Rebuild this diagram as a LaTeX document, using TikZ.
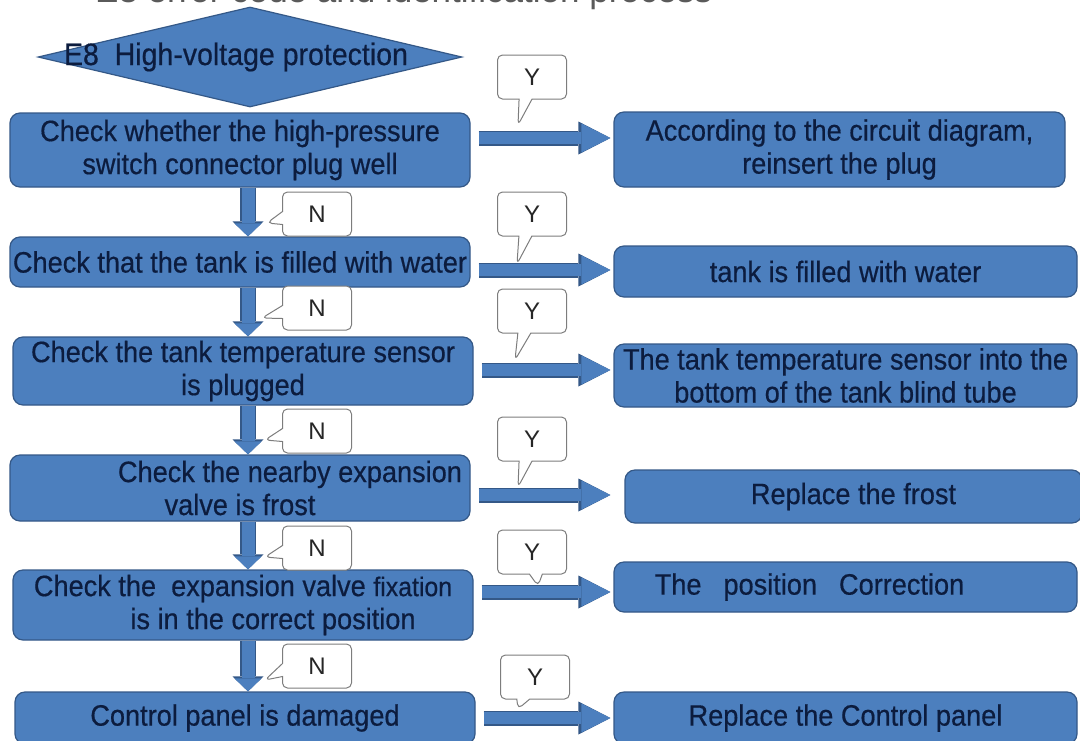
\documentclass[tikz,border=0pt]{standalone}
\usepackage{fontspec}
\setmainfont{Liberation Sans}
\newfontfamily\boxfont[FakeStretch=0.92,FakeBold=0.5]{Liberation Sans}
\usetikzlibrary{shapes.geometric,shapes.callouts,arrows.meta,calc}

\definecolor{boxfill}{RGB}{76,127,190}
\definecolor{boxline}{RGB}{52,88,135}
\definecolor{navy}{RGB}{12,28,62}
\definecolor{tagline}{RGB}{125,125,125}
\definecolor{titlegray}{RGB}{90,90,90}

\tikzset{
  box/.style={draw=boxline, fill=boxfill, line width=1.2pt, rounded corners=10pt,
    text=navy, align=center, inner sep=2pt,
    font=\boxfont\fontsize{29.5}{33}\selectfont},
  leftbox/.style={box, minimum width=460pt},
  rightbox/.style={box, minimum width=463pt},
  harrow/.style={draw=boxfill, line width=12pt,
    -{Triangle[length=29pt,width=29pt,line width=0pt]},
    preaction={draw=boxline, line width=15pt,
      -{Triangle[length=32pt,width=33pt,line width=0pt]}}},
  varrow/.style={draw=boxfill, line width=13pt,
    -{Triangle[length=13pt,width=27pt,line width=0pt]},
    preaction={draw=boxline, line width=16pt,
      -{Triangle[length=15pt,width=31pt,line width=0pt]}}},
  tag/.style={rectangle callout, draw=tagline, fill=white, line width=1pt,
    rounded corners=5pt, minimum width=69pt, minimum height=44pt, inner sep=0pt,
    text=black!85, font=\fontsize{24}{24}\selectfont, callout pointer width=13pt}
}

\begin{document}
\begin{tikzpicture}[x=1pt,y=-1pt]

\useasboundingbox (0,0) rectangle (1080,740);

% Title (cut by the page)
\node[anchor=base west, inner sep=0pt, text=titlegray, font=\fontsize{35}{35}\selectfont]
  (title) at (95,2) {E8 error code and identification process};

% Start
\node[diamond, draw=boxline, fill=boxfill, line width=1.2pt,
  minimum width=424pt, minimum height=100pt, inner sep=0pt] (e8) at (250,57) {};
\node[text=navy, font=\boxfont\fontsize{31}{33}\selectfont] (e8text) at (236,57)
  {E8\ \ High-voltage protection};

% Checks
\node[leftbox, minimum height=74pt] (c1) at (240,150)
  {Check whether the high-pressure\\switch connector plug well};
\node[leftbox, minimum height=50pt] (c2) at (240,262)
  {Check that the tank is filled with water};
\node[leftbox, minimum height=68pt] (c3) at (243,371)
  {Check the tank temperature sensor\\is plugged};
\node[leftbox, minimum height=66pt] (c4) at (240,488)
  {\hspace*{100pt}Check the nearby expansion\\valve is frost};
\node[leftbox, minimum height=70pt] (c5) at (243,605)
  {Check the\ \ expansion valve {\fontsize{27}{33}\selectfont fixation}\\\hspace*{60pt}is in the correct position};
\node[leftbox, minimum height=52pt] (c6) at (245,718)
  {Control panel is damaged};

% Actions
\node[rightbox, minimum width=451pt, minimum height=75pt] (r1) at (839.5,149.5)
  {According to the circuit diagram,\\reinsert the plug};
\node[rightbox, minimum height=51pt] (r2) at (845.5,271.5)
  {tank is filled with water};
\node[rightbox, minimum height=63pt] (r3) at (845.5,375.5)
  {The tank temperature sensor into the\\bottom of the tank blind tube};
\node[rightbox, minimum width=457pt, minimum height=53pt] (r4) at (853.5,496.5)
  {Replace the frost};
\node[rightbox, minimum height=50pt] (r5) at (845.5,587)
  {The\hspace{22pt}position\hspace{22pt}Correction\hspace*{72pt}};
\node[rightbox, minimum height=52pt] (r6) at (845.5,718)
  {Replace the Control panel};

% Arrows N
\coordinate (vx) at (248,0);
\foreach \a/\b in {c1/c2,c2/c3,c3/c4,c4/c5,c5/c6}
  \draw[varrow] (\a.south -| vx) -- (\b.north -| vx);

% Arrows Y
\foreach \c/\r/\y/\g in {c1/r1/138/3,c2/r2/270/3,c3/r3/370/3,c4/r4/495/14,c5/r5/592/3,c6/r6/718/3}
  \draw[harrow] ($(\c.east |- 0,\y)+(8,0)$) -- ($(\r.west |- 0,\y)+(-\g,0)$);

% Labels N
\foreach \i/\x/\y/\tx/\ty in {1/317/214/267/223,2/317/308/262/318,3/317/431/265/440,
                              4/317/548/265/557,5/317/666/265/680}
{
  \coordinate (nt\i) at (\tx,\ty);
  \node[tag, callout absolute pointer={(nt\i)}] (n\i) at (\x,\y) {N};
}

% Labels Y
\foreach \i/\x/\y/\tx/\ty in {1/532/77/518/125,2/532/214/517/264,3/532/311/515/360,
                              4/532/439/518/487,5/532/552/538/586,6/535/677/518/709}
{
  \coordinate (yt\i) at (\tx,\ty);
  \node[tag, callout absolute pointer={(yt\i)}] (y\i) at (\x,\y) {Y};
}

\end{tikzpicture}
\end{document}
